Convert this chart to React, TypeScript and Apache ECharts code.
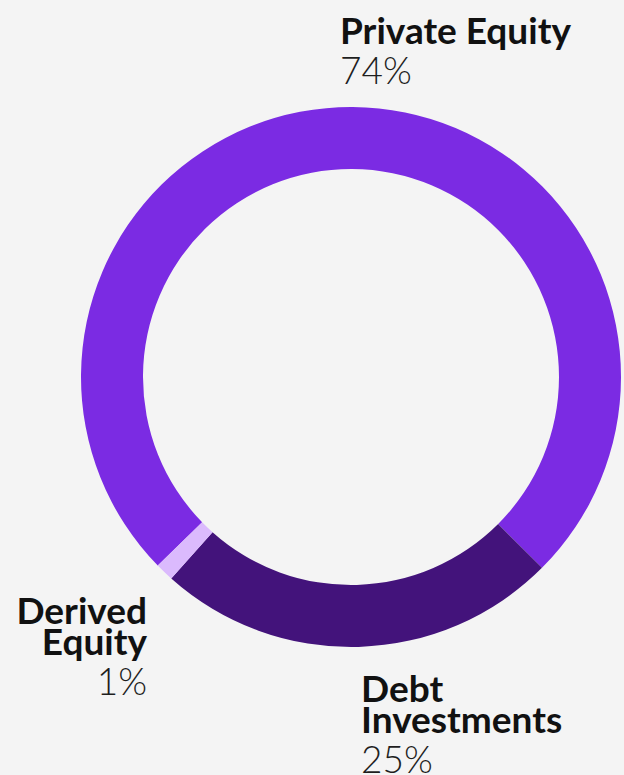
import React, { useEffect, useRef } from "react";
import * as echarts from "echarts";

const categories = ["Private Equity", "Debt Investments", "Derived Equity"];
const nameLines = [["Private Equity"], ["Debt", "Investments"], ["Derived", "Equity"]];
const values = [74.8, 24.1, 1.1];
const percentLabels = ["74%", "25%", "1%"];
const colors = ["#7b2be3", "#43137b", "#dbbafd"];

const FONT = "Lato, 'Noto Sans', sans-serif";

export default function App() {
  const ref = useRef<HTMLDivElement>(null);
  useEffect(() => {
    document.body.style.margin = "0";
    const chart = echarts.init(ref.current!, null, { renderer: "svg" });
    const labelPos = [
      { x: 340, y: 14, align: "left" },
      { x: 361, y: 672, align: "left" },
      { x: 147, y: 594, align: "right" },
    ];
    chart.setOption({
      animation: false,
      backgroundColor: "#f4f4f4",
      series: [
        {
          type: "pie",
          center: [351, 377],
          radius: [208, 270],
          startAngle: 224.3,
          clockwise: true,
          avoidLabelOverlap: false,
          silent: true,
          data: categories.map((c, i) => ({
            name: c,
            value: values[i],
            itemStyle: { color: colors[i] },
            label: { align: labelPos[i].align },
          })),
          labelLine: { show: false },
          label: {
            show: true,
            position: "outside",
            formatter: (p: any) => {
              const lines = nameLines[p.dataIndex].map((l) => `{n|${l}}`).join("\n");
              return `${lines}\n{p|${percentLabels[p.dataIndex]}}`;
            },
            rich: {
              n: {
                fontFamily: FONT,
                fontSize: 37,
                fontWeight: "bold",
                color: "#111111",
                lineHeight: 31,
              },
              p: {
                fontFamily: FONT,
                fontSize: 37,
                fontWeight: 300,
                color: "#1e1e1e",
                lineHeight: 49,
              },
            },
          },
          labelLayout: (params: any) => {
            const lp = labelPos[params.dataIndex];
            return {
              x: lp.x,
              y: lp.y,
              align: lp.align,
              verticalAlign: "top",
            };
          },
        },
      ],
    });
    return () => chart.dispose();
  }, []);
  return (
    <div
      ref={ref}
      style={{ position: "absolute", left: 0, top: 0, width: 624, height: 775 }}
    />
  );
}
